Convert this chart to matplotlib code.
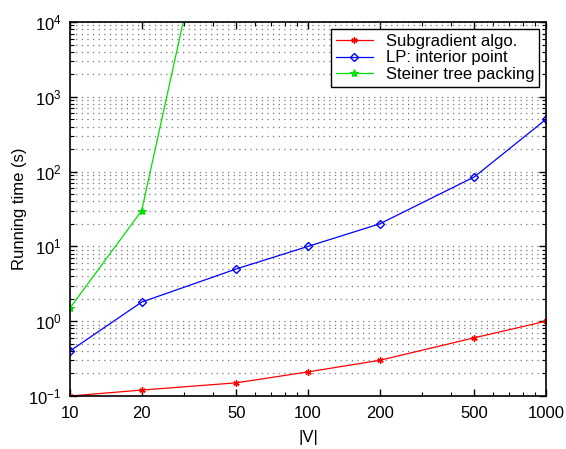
import numpy as np
import matplotlib
matplotlib.use('Agg')
import matplotlib.pyplot as plt
from matplotlib.ticker import LogLocator, NullFormatter, FixedLocator, FixedFormatter

plt.rcParams['font.family'] = ['Liberation Sans', 'DejaVu Sans']
plt.rcParams['mathtext.fontset'] = 'custom'
plt.rcParams['mathtext.rm'] = 'Liberation Sans'
plt.rcParams['mathtext.it'] = 'Liberation Sans'

# data
n_nodes = [10, 20, 50, 100, 200, 500, 1000]
t_subgradient = [0.1, 0.12, 0.15, 0.21, 0.3, 0.6, 1.0]
t_lp = [0.4, 1.8, 5.0, 10.0, 20.0, 85.0, 500.0]
n_steiner = [10, 20, 50]
t_steiner = [1.5, 30.0, 1.7e7]
xtick_vals = [10, 20, 50, 100, 200, 500, 1000]

fig = plt.figure(figsize=(5.66, 4.49), dpi=100)
ax = fig.add_axes([70 / 566, 1 - 396 / 449, 476 / 566, 374 / 449])

ax.plot(n_nodes, t_subgradient, color='red', lw=0.9, marker=(6, 2, 0), ms=4.5,
        mew=1.0, label='Subgradient algo.')
ax.plot(n_nodes, t_lp, color='blue', lw=0.9, marker='D', ms=4.3, mfc='none',
        mew=1.0, label='LP: interior point')
ax.plot(n_steiner, t_steiner, color='#00e000', lw=0.9, marker='*', ms=6,
        mew=0.8, label='Steiner tree packing')

ax.set_xscale('log')
ax.set_yscale('log')
ax.set_xlim(10, 1000)
ax.set_ylim(0.1, 1e4)

ax.xaxis.set_major_locator(FixedLocator(xtick_vals))
ax.xaxis.set_major_formatter(FixedFormatter([str(v) for v in xtick_vals]))
ax.xaxis.set_minor_locator(LogLocator(base=10, subs=np.arange(2, 10)))
ax.xaxis.set_minor_formatter(NullFormatter())
ax.yaxis.set_major_locator(LogLocator(base=10, numticks=10))
ax.yaxis.set_minor_locator(LogLocator(base=10, subs=np.arange(2, 10), numticks=10))
ax.yaxis.set_minor_formatter(NullFormatter())

# horizontal dotted grid only (major + minor)
ax.yaxis.grid(True, which='both', linestyle=(0, (1, 3.5)), color='#777777', lw=0.9)
ax.tick_params(which='both', direction='in', top=True, right=True, labelsize=12)
ax.tick_params(axis='x', which='major', pad=7)
ax.tick_params(axis='y', which='major', pad=6)
ax.tick_params(which='major', length=5, width=1)
ax.tick_params(which='minor', length=3, width=0.8)
for s in ax.spines.values():
    s.set_linewidth(1.2)

ax.set_xlabel('|V|', fontsize=12, labelpad=7)
ax.set_ylabel('Running time (s)', fontsize=12, labelpad=1)

leg = ax.legend(loc='upper right', fontsize=12, fancybox=False, framealpha=1,
                edgecolor='black', borderaxespad=0.4, handlelength=2.2,
                labelspacing=0.1, borderpad=0.3)
leg.get_frame().set_linewidth(1.0)

fig.savefig('out.png', dpi=100)
